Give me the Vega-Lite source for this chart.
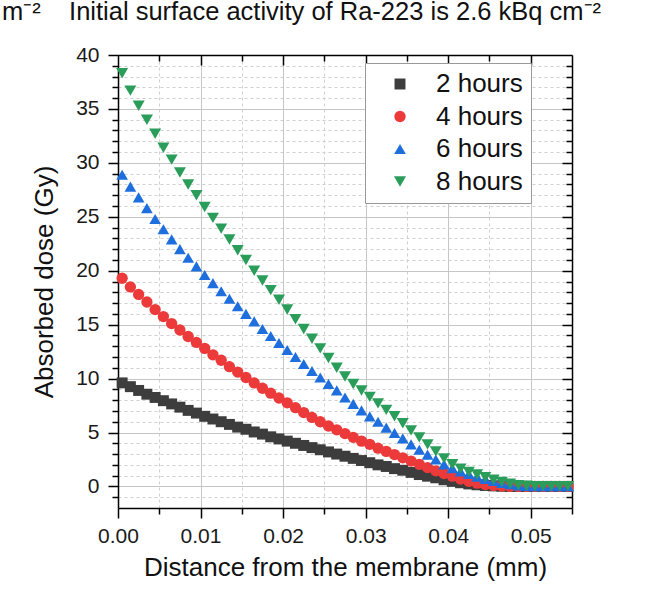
{
  "$schema": "https://vega.github.io/schema/vega-lite/v6.json",
  "autosize": {"type": "none"},
  "padding": {"left": 118, "top": 55, "right": 77, "bottom": 82},
  "width": 454,
  "height": 453,
  "background": "white",
  "title": {
    "text": "m⁻²\u00a0\u00a0\u00a0\u00a0Initial surface activity of Ra-223 is 2.6 kBq cm⁻²",
    "anchor": "start", "frame": "group", "dx": -116, "dy": 16, "baseline": "bottom", "offset": 10,
    "fontSize": 25.5, "fontWeight": "normal", "font": "Liberation Sans", "color": "#111"
  },
  "datasets": {
    "dose": [
      {"distance":0.0005,"series":"2 hours","dose":9.6},{"distance":0.0015,"series":"2 hours","dose":9.25},{"distance":0.0025,"series":"2 hours","dose":8.9},{"distance":0.0035,"series":"2 hours","dose":8.55},{"distance":0.0045,"series":"2 hours","dose":8.25},{"distance":0.0055,"series":"2 hours","dose":7.95},{"distance":0.0065,"series":"2 hours","dose":7.65},{"distance":0.0075,"series":"2 hours","dose":7.35},{"distance":0.0085,"series":"2 hours","dose":7.05},{"distance":0.0095,"series":"2 hours","dose":6.8},{"distance":0.0105,"series":"2 hours","dose":6.5},{"distance":0.0115,"series":"2 hours","dose":6.25},{"distance":0.0125,"series":"2 hours","dose":6.0},{"distance":0.0135,"series":"2 hours","dose":5.75},{"distance":0.0145,"series":"2 hours","dose":5.5},{"distance":0.0155,"series":"2 hours","dose":5.3},{"distance":0.0165,"series":"2 hours","dose":5.05},{"distance":0.0175,"series":"2 hours","dose":4.85},{"distance":0.0185,"series":"2 hours","dose":4.6},{"distance":0.0195,"series":"2 hours","dose":4.4},{"distance":0.0205,"series":"2 hours","dose":4.2},{"distance":0.0215,"series":"2 hours","dose":4.0},{"distance":0.0225,"series":"2 hours","dose":3.8},{"distance":0.0235,"series":"2 hours","dose":3.6},{"distance":0.0245,"series":"2 hours","dose":3.4},{"distance":0.0255,"series":"2 hours","dose":3.2},{"distance":0.0265,"series":"2 hours","dose":3.0},{"distance":0.0275,"series":"2 hours","dose":2.8},{"distance":0.0285,"series":"2 hours","dose":2.6},{"distance":0.0295,"series":"2 hours","dose":2.4},{"distance":0.0305,"series":"2 hours","dose":2.2},{"distance":0.0315,"series":"2 hours","dose":2.0},{"distance":0.0325,"series":"2 hours","dose":1.85},{"distance":0.0335,"series":"2 hours","dose":1.65},{"distance":0.0345,"series":"2 hours","dose":1.5},{"distance":0.0355,"series":"2 hours","dose":1.3},{"distance":0.0365,"series":"2 hours","dose":1.1},{"distance":0.0375,"series":"2 hours","dose":0.95},{"distance":0.0385,"series":"2 hours","dose":0.8},{"distance":0.0395,"series":"2 hours","dose":0.62},{"distance":0.0405,"series":"2 hours","dose":0.47},{"distance":0.0415,"series":"2 hours","dose":0.34},{"distance":0.0425,"series":"2 hours","dose":0.23},{"distance":0.0435,"series":"2 hours","dose":0.15},{"distance":0.0445,"series":"2 hours","dose":0.09},{"distance":0.0455,"series":"2 hours","dose":0.05},{"distance":0.0465,"series":"2 hours","dose":0.02},{"distance":0.0475,"series":"2 hours","dose":0},{"distance":0.0485,"series":"2 hours","dose":0},{"distance":0.0495,"series":"2 hours","dose":0},{"distance":0.0505,"series":"2 hours","dose":0},{"distance":0.0515,"series":"2 hours","dose":0},{"distance":0.0525,"series":"2 hours","dose":0},{"distance":0.0535,"series":"2 hours","dose":0},{"distance":0.0545,"series":"2 hours","dose":0},
      {"distance":0.0005,"series":"4 hours","dose":19.3},{"distance":0.0015,"series":"4 hours","dose":18.5},{"distance":0.0025,"series":"4 hours","dose":17.8},{"distance":0.0035,"series":"4 hours","dose":17.1},{"distance":0.0045,"series":"4 hours","dose":16.4},{"distance":0.0055,"series":"4 hours","dose":15.75},{"distance":0.0065,"series":"4 hours","dose":15.1},{"distance":0.0075,"series":"4 hours","dose":14.5},{"distance":0.0085,"series":"4 hours","dose":13.9},{"distance":0.0095,"series":"4 hours","dose":13.35},{"distance":0.0105,"series":"4 hours","dose":12.8},{"distance":0.0115,"series":"4 hours","dose":12.2},{"distance":0.0125,"series":"4 hours","dose":11.7},{"distance":0.0135,"series":"4 hours","dose":11.1},{"distance":0.0145,"series":"4 hours","dose":10.6},{"distance":0.0155,"series":"4 hours","dose":10.1},{"distance":0.0165,"series":"4 hours","dose":9.6},{"distance":0.0175,"series":"4 hours","dose":9.1},{"distance":0.0185,"series":"4 hours","dose":8.65},{"distance":0.0195,"series":"4 hours","dose":8.2},{"distance":0.0205,"series":"4 hours","dose":7.75},{"distance":0.0215,"series":"4 hours","dose":7.3},{"distance":0.0225,"series":"4 hours","dose":6.85},{"distance":0.0235,"series":"4 hours","dose":6.4},{"distance":0.0245,"series":"4 hours","dose":6.0},{"distance":0.0255,"series":"4 hours","dose":5.6},{"distance":0.0265,"series":"4 hours","dose":5.25},{"distance":0.0275,"series":"4 hours","dose":4.9},{"distance":0.0285,"series":"4 hours","dose":4.55},{"distance":0.0295,"series":"4 hours","dose":4.2},{"distance":0.0305,"series":"4 hours","dose":3.9},{"distance":0.0315,"series":"4 hours","dose":3.55},{"distance":0.0325,"series":"4 hours","dose":3.25},{"distance":0.0335,"series":"4 hours","dose":2.95},{"distance":0.0345,"series":"4 hours","dose":2.65},{"distance":0.0355,"series":"4 hours","dose":2.35},{"distance":0.0365,"series":"4 hours","dose":2.05},{"distance":0.0375,"series":"4 hours","dose":1.75},{"distance":0.0385,"series":"4 hours","dose":1.45},{"distance":0.0395,"series":"4 hours","dose":1.2},{"distance":0.0405,"series":"4 hours","dose":0.95},{"distance":0.0415,"series":"4 hours","dose":0.68},{"distance":0.0425,"series":"4 hours","dose":0.47},{"distance":0.0435,"series":"4 hours","dose":0.3},{"distance":0.0445,"series":"4 hours","dose":0.17},{"distance":0.0455,"series":"4 hours","dose":0.08},{"distance":0.0465,"series":"4 hours","dose":0.03},{"distance":0.0475,"series":"4 hours","dose":0},{"distance":0.0485,"series":"4 hours","dose":0},{"distance":0.0495,"series":"4 hours","dose":0},{"distance":0.0505,"series":"4 hours","dose":0},{"distance":0.0515,"series":"4 hours","dose":0},{"distance":0.0525,"series":"4 hours","dose":0},{"distance":0.0535,"series":"4 hours","dose":0},{"distance":0.0545,"series":"4 hours","dose":0},
      {"distance":0.0005,"series":"6 hours","dose":28.9},{"distance":0.0015,"series":"6 hours","dose":27.8},{"distance":0.0025,"series":"6 hours","dose":26.8},{"distance":0.0035,"series":"6 hours","dose":25.8},{"distance":0.0045,"series":"6 hours","dose":24.8},{"distance":0.0055,"series":"6 hours","dose":23.85},{"distance":0.0065,"series":"6 hours","dose":22.9},{"distance":0.0075,"series":"6 hours","dose":22.0},{"distance":0.0085,"series":"6 hours","dose":21.2},{"distance":0.0095,"series":"6 hours","dose":20.4},{"distance":0.0105,"series":"6 hours","dose":19.6},{"distance":0.0115,"series":"6 hours","dose":18.85},{"distance":0.0125,"series":"6 hours","dose":18.1},{"distance":0.0135,"series":"6 hours","dose":17.4},{"distance":0.0145,"series":"6 hours","dose":16.7},{"distance":0.0155,"series":"6 hours","dose":16.0},{"distance":0.0165,"series":"6 hours","dose":15.3},{"distance":0.0175,"series":"6 hours","dose":14.6},{"distance":0.0185,"series":"6 hours","dose":13.95},{"distance":0.0195,"series":"6 hours","dose":13.3},{"distance":0.0205,"series":"6 hours","dose":12.65},{"distance":0.0215,"series":"6 hours","dose":12.0},{"distance":0.0225,"series":"6 hours","dose":11.35},{"distance":0.0235,"series":"6 hours","dose":10.7},{"distance":0.0245,"series":"6 hours","dose":10.1},{"distance":0.0255,"series":"6 hours","dose":9.5},{"distance":0.0265,"series":"6 hours","dose":8.9},{"distance":0.0275,"series":"6 hours","dose":8.25},{"distance":0.0285,"series":"6 hours","dose":7.65},{"distance":0.0295,"series":"6 hours","dose":7.05},{"distance":0.0305,"series":"6 hours","dose":6.5},{"distance":0.0315,"series":"6 hours","dose":6.0},{"distance":0.0325,"series":"6 hours","dose":5.45},{"distance":0.0335,"series":"6 hours","dose":4.95},{"distance":0.0345,"series":"6 hours","dose":4.45},{"distance":0.0355,"series":"6 hours","dose":3.9},{"distance":0.0365,"series":"6 hours","dose":3.4},{"distance":0.0375,"series":"6 hours","dose":2.95},{"distance":0.0385,"series":"6 hours","dose":2.5},{"distance":0.0395,"series":"6 hours","dose":2.05},{"distance":0.0405,"series":"6 hours","dose":1.7},{"distance":0.0415,"series":"6 hours","dose":1.4},{"distance":0.0425,"series":"6 hours","dose":1.15},{"distance":0.0435,"series":"6 hours","dose":0.9},{"distance":0.0445,"series":"6 hours","dose":0.7},{"distance":0.0455,"series":"6 hours","dose":0.5},{"distance":0.0465,"series":"6 hours","dose":0.33},{"distance":0.0475,"series":"6 hours","dose":0.2},{"distance":0.0485,"series":"6 hours","dose":0.1},{"distance":0.0495,"series":"6 hours","dose":0.05},{"distance":0.0505,"series":"6 hours","dose":0.02},{"distance":0.0515,"series":"6 hours","dose":0.02},{"distance":0.0525,"series":"6 hours","dose":0.02},{"distance":0.0535,"series":"6 hours","dose":0.02},{"distance":0.0545,"series":"6 hours","dose":0.02},
      {"distance":0.0005,"series":"8 hours","dose":38.3},{"distance":0.0015,"series":"8 hours","dose":36.7},{"distance":0.0025,"series":"8 hours","dose":35.3},{"distance":0.0035,"series":"8 hours","dose":34.0},{"distance":0.0045,"series":"8 hours","dose":32.7},{"distance":0.0055,"series":"8 hours","dose":31.4},{"distance":0.0065,"series":"8 hours","dose":30.3},{"distance":0.0075,"series":"8 hours","dose":29.1},{"distance":0.0085,"series":"8 hours","dose":28.0},{"distance":0.0095,"series":"8 hours","dose":27.0},{"distance":0.0105,"series":"8 hours","dose":25.9},{"distance":0.0115,"series":"8 hours","dose":24.9},{"distance":0.0125,"series":"8 hours","dose":23.9},{"distance":0.0135,"series":"8 hours","dose":22.9},{"distance":0.0145,"series":"8 hours","dose":21.9},{"distance":0.0155,"series":"8 hours","dose":21.0},{"distance":0.0165,"series":"8 hours","dose":20.0},{"distance":0.0175,"series":"8 hours","dose":19.1},{"distance":0.0185,"series":"8 hours","dose":18.2},{"distance":0.0195,"series":"8 hours","dose":17.3},{"distance":0.0205,"series":"8 hours","dose":16.4},{"distance":0.0215,"series":"8 hours","dose":15.5},{"distance":0.0225,"series":"8 hours","dose":14.6},{"distance":0.0235,"series":"8 hours","dose":13.7},{"distance":0.0245,"series":"8 hours","dose":12.8},{"distance":0.0255,"series":"8 hours","dose":11.9},{"distance":0.0265,"series":"8 hours","dose":11.0},{"distance":0.0275,"series":"8 hours","dose":10.2},{"distance":0.0285,"series":"8 hours","dose":9.5},{"distance":0.0295,"series":"8 hours","dose":8.9},{"distance":0.0305,"series":"8 hours","dose":8.3},{"distance":0.0315,"series":"8 hours","dose":7.7},{"distance":0.0325,"series":"8 hours","dose":7.1},{"distance":0.0335,"series":"8 hours","dose":6.5},{"distance":0.0345,"series":"8 hours","dose":5.85},{"distance":0.0355,"series":"8 hours","dose":5.2},{"distance":0.0365,"series":"8 hours","dose":4.55},{"distance":0.0375,"series":"8 hours","dose":3.9},{"distance":0.0385,"series":"8 hours","dose":3.25},{"distance":0.0395,"series":"8 hours","dose":2.6},{"distance":0.0405,"series":"8 hours","dose":2.05},{"distance":0.0415,"series":"8 hours","dose":1.65},{"distance":0.0425,"series":"8 hours","dose":1.35},{"distance":0.0435,"series":"8 hours","dose":1.1},{"distance":0.0445,"series":"8 hours","dose":0.85},{"distance":0.0455,"series":"8 hours","dose":0.62},{"distance":0.0465,"series":"8 hours","dose":0.42},{"distance":0.0475,"series":"8 hours","dose":0.25},{"distance":0.0485,"series":"8 hours","dose":0.12},{"distance":0.0495,"series":"8 hours","dose":0.06},{"distance":0.0505,"series":"8 hours","dose":0.03},{"distance":0.0515,"series":"8 hours","dose":0.03},{"distance":0.0525,"series":"8 hours","dose":0.03},{"distance":0.0535,"series":"8 hours","dose":0.03},{"distance":0.0545,"series":"8 hours","dose":0.03}
    ]
  },
  "data": {"name": "dose"},
  "layer": [
    {
      "mark": {"type": "point", "opacity": 0},
      "encoding": {
        "x": {"field": "distance", "type": "quantitative", "scale": {"domain": [0, 0.055], "nice": false, "zero": false},
          "axis": {"orient": "bottom", "values": [0.005, 0.015, 0.025, 0.035, 0.045, 0.055], "labels": false, "title": null, "domain": false,
            "ticks": true, "tickSize": 6, "tickColor": "#000", "tickWidth": 1.5, "grid": true, "gridColor": "#cfcfcf", "gridDash": [3, 3], "gridWidth": 1}},
        "y": {"field": "dose", "type": "quantitative", "scale": {"domain": [-2, 40], "nice": false, "zero": false},
          "axis": {"orient": "left", "values": [-1,1,2,3,4,6,7,8,9,11,12,13,14,16,17,18,19,21,22,23,24,26,27,28,29,31,32,33,34,36,37,38,39], "labels": false, "title": null, "domain": false,
            "ticks": true, "tickSize": 6, "tickColor": "#000", "tickWidth": 1.5, "grid": true, "gridColor": "#cfcfcf", "gridDash": [3, 3], "gridWidth": 1}}
      }
    },
    {
      "mark": {"type": "point", "opacity": 0},
      "encoding": {
        "x": {"field": "distance", "type": "quantitative",
          "axis": {"orient": "bottom", "values": [0, 0.01, 0.02, 0.03, 0.04, 0.05], "format": ".2f", "labelFlush": false,
            "title": "Distance from the membrane (mm)", "titleFontSize": 26, "titleFontWeight": "normal", "titleColor": "#111", "titlePadding": 8,
            "labelFontSize": 21, "labelColor": "#1a1a1a", "labelPadding": 7,
            "domain": true, "domainColor": "#000", "domainWidth": 1.5,
            "tickSize": 10, "tickColor": "#000", "tickWidth": 1.5, "grid": true, "gridColor": "#c6c6c6", "gridWidth": 1}},
        "y": {"field": "dose", "type": "quantitative",
          "axis": {"orient": "left", "values": [0, 5, 10, 15, 20, 25, 30, 35, 40], "labelFlush": false,
            "title": "Absorbed dose (Gy)", "titleFontSize": 26, "titleFontWeight": "normal", "titleColor": "#111", "titlePadding": 18,
            "labelFontSize": 21, "labelColor": "#1a1a1a", "labelPadding": 9,
            "domain": true, "domainColor": "#000", "domainWidth": 1.5,
            "tickSize": 10, "tickColor": "#000", "tickWidth": 1.5, "grid": true, "gridColor": "#c6c6c6", "gridWidth": 1}}
      }
    },
    {
      "mark": {"type": "point", "opacity": 0},
      "encoding": {
        "x": {"field": "distance", "type": "quantitative",
          "axis": {"orient": "top", "values": [0.005, 0.015, 0.025, 0.035, 0.045], "labels": false, "title": null, "domain": false,
            "tickSize": -6, "tickColor": "#000", "tickWidth": 1.5, "grid": false}},
        "y": {"field": "dose", "type": "quantitative",
          "axis": {"orient": "right", "values": [-1,1,2,3,4,6,7,8,9,11,12,13,14,16,17,18,19,21,22,23,24,26,27,28,29,31,32,33,34,36,37,38,39], "labels": false, "title": null, "domain": false,
            "tickSize": -6, "tickColor": "#000", "tickWidth": 1.5, "grid": false}}
      }
    },
    {
      "mark": {"type": "point", "opacity": 0},
      "encoding": {
        "x": {"field": "distance", "type": "quantitative",
          "axis": {"orient": "top", "values": [0.01, 0.02, 0.03, 0.04, 0.05], "labels": false, "title": null,
            "domain": true, "domainColor": "#000", "domainWidth": 1.5,
            "tickSize": -10, "tickColor": "#000", "tickWidth": 1.5, "grid": false}},
        "y": {"field": "dose", "type": "quantitative",
          "axis": {"orient": "right", "values": [0, 5, 10, 15, 20, 25, 30, 35], "labels": false, "title": null,
            "domain": true, "domainColor": "#000", "domainWidth": 1.5,
            "tickSize": -10, "tickColor": "#000", "tickWidth": 1.5, "grid": false}}
      }
    },
    {
      "mark": {"type": "point", "filled": true, "opacity": 1, "strokeWidth": 0},
      "encoding": {
        "x": {"field": "distance", "type": "quantitative", "axis": null},
        "y": {"field": "dose", "type": "quantitative", "axis": null},
        "size": {"field": "series", "type": "nominal",
          "scale": {"domain": ["2 hours", "4 hours", "6 hours", "8 hours"], "range": [120, 145, 165, 165]},
          "legend": null},
        "color": {"field": "series", "type": "nominal",
          "scale": {"domain": ["2 hours", "4 hours", "6 hours", "8 hours"], "range": ["#3d3d3d", "#ec3a3a", "#1e6fdd", "#2a9d5b"]},
          "legend": {"orient": "none", "legendX": 247, "legendY": 8, "title": null, "labelFontSize": 26, "labelColor": "#111",
            "symbolSize": 150, "symbolOffset": 14, "labelOffset": 23, "rowPadding": 6.5, "padding": 8,
            "strokeColor": "#999", "fillColor": "white", "symbolStrokeWidth": 0}},
        "shape": {"field": "series", "type": "nominal",
          "scale": {"domain": ["2 hours", "4 hours", "6 hours", "8 hours"], "range": ["square", "circle", "triangle-up", "triangle-down"]},
          "legend": {"orient": "none", "legendX": 247, "legendY": 8, "title": null, "labelFontSize": 26, "labelColor": "#111",
            "symbolSize": 150, "symbolOffset": 14, "labelOffset": 23, "rowPadding": 6.5, "padding": 8,
            "strokeColor": "#999", "fillColor": "white", "symbolStrokeWidth": 0}}
      }
    }
  ],
  "resolve": {"axis": {"x": "independent", "y": "independent"}, "scale": {"x": "shared", "y": "shared"}},
  "config": {
    "font": "Liberation Sans",
    "view": {"stroke": null},
    "axis": {"labelFont": "Liberation Sans", "titleFont": "Liberation Sans"},
    "legend": {"labelFont": "Liberation Sans"}
  }
}
